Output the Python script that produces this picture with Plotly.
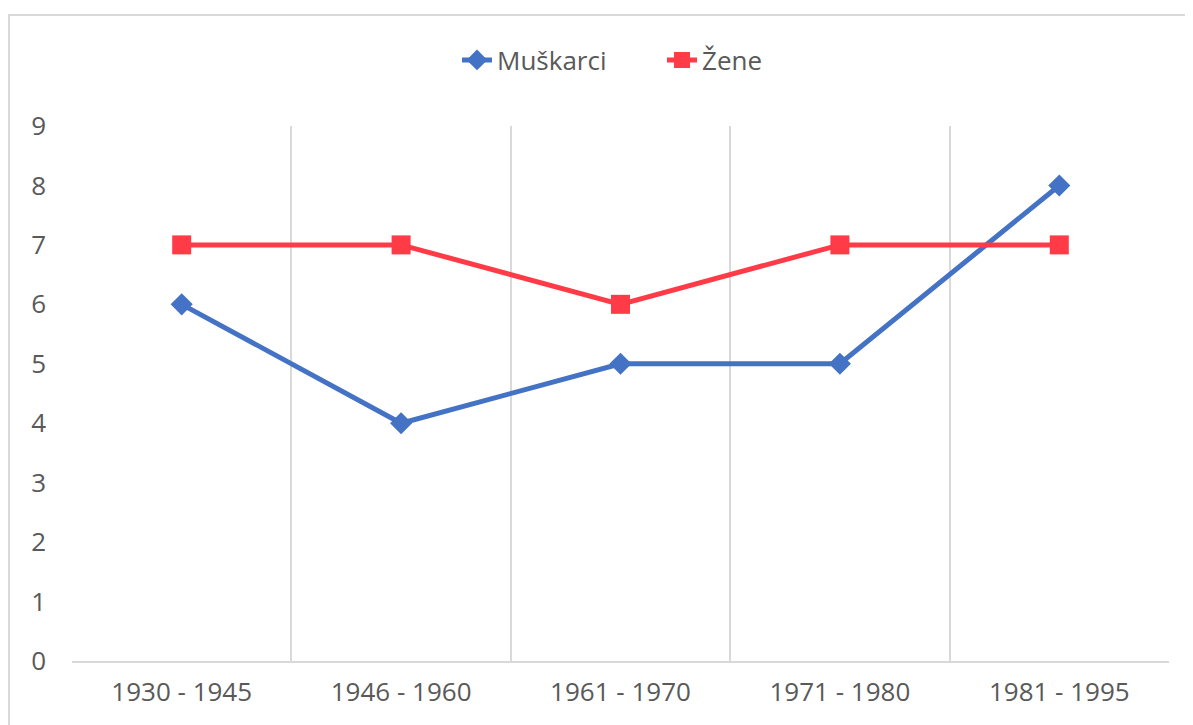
import plotly.graph_objects as go

categories = ["1930 - 1945", "1946 - 1960", "1961 - 1970", "1971 - 1980", "1981 - 1995"]
muskarci = [6, 4, 5, 5, 8]
zene = [7, 7, 6, 7, 7]
y_ticks = [0, 1, 2, 3, 4, 5, 6, 7, 8, 9]

W, H = 1193, 725
# the page body adds an 8px offset, so figure coords = screen coords - 8
ml, mr, mt, mb = 64, 32, 118, 72
pw, ph = W - ml - mr, H - mt - mb

FONT = "Open Sans"
TXT = "#595959"
GRID = "#D9D9D9"

fig = go.Figure()
fig.add_trace(go.Scatter(
    x=categories, y=muskarci, name="Muškarci", mode="lines+markers",
    line=dict(color="#4472C4", width=5),
    marker=dict(symbol="diamond", size=17, color="#4472C4"),
))
fig.add_trace(go.Scatter(
    x=categories, y=zene, name="Žene", mode="lines+markers",
    line=dict(color="#FF3B47", width=5),
    marker=dict(symbol="square", size=19, color="#FF3B47"),
))

fig.update_layout(
    width=W, height=H,
    margin=dict(l=ml, r=mr, t=mt, b=mb),
    paper_bgcolor="white", plot_bgcolor="white",
    font=dict(family=FONT, size=26, color=TXT),
    showlegend=True,
    legend=dict(orientation="h", x=(449 - ml) / pw, xanchor="left",
                y=1 + (mt - 52) / ph, yanchor="middle",
                font=dict(family=FONT, size=26, color=TXT),
                entrywidth=160, entrywidthmode="pixels",
                bgcolor="rgba(0,0,0,0)"),
    xaxis=dict(
        type="category", range=[-0.5, 4.5], tickson="boundaries",
        showgrid=True, gridcolor=GRID, gridwidth=2,
        showline=True, linecolor=GRID, linewidth=2,
        ticks="", ticklabelstandoff=7,
        tickfont=dict(family=FONT, size=26, color=TXT),
        fixedrange=True, zeroline=False,
    ),
    yaxis=dict(
        range=[0, 9], tickvals=y_ticks, showgrid=False, zeroline=False,
        showline=False, ticks="", ticklabelstandoff=25,
        tickfont=dict(family=FONT, size=26, color=TXT),
        fixedrange=True,
    ),
    shapes=[dict(
        type="rect", xref="paper", yref="paper",
        x0=(1 - ml) / pw, x1=(1200 - ml) / pw,
        y0=-(740 - (mt + ph)) / ph, y1=1 + (mt - 7) / ph,
        line=dict(color=GRID, width=2), fillcolor="rgba(0,0,0,0)", layer="below",
    )],
)

fig.write_html("out.html")
